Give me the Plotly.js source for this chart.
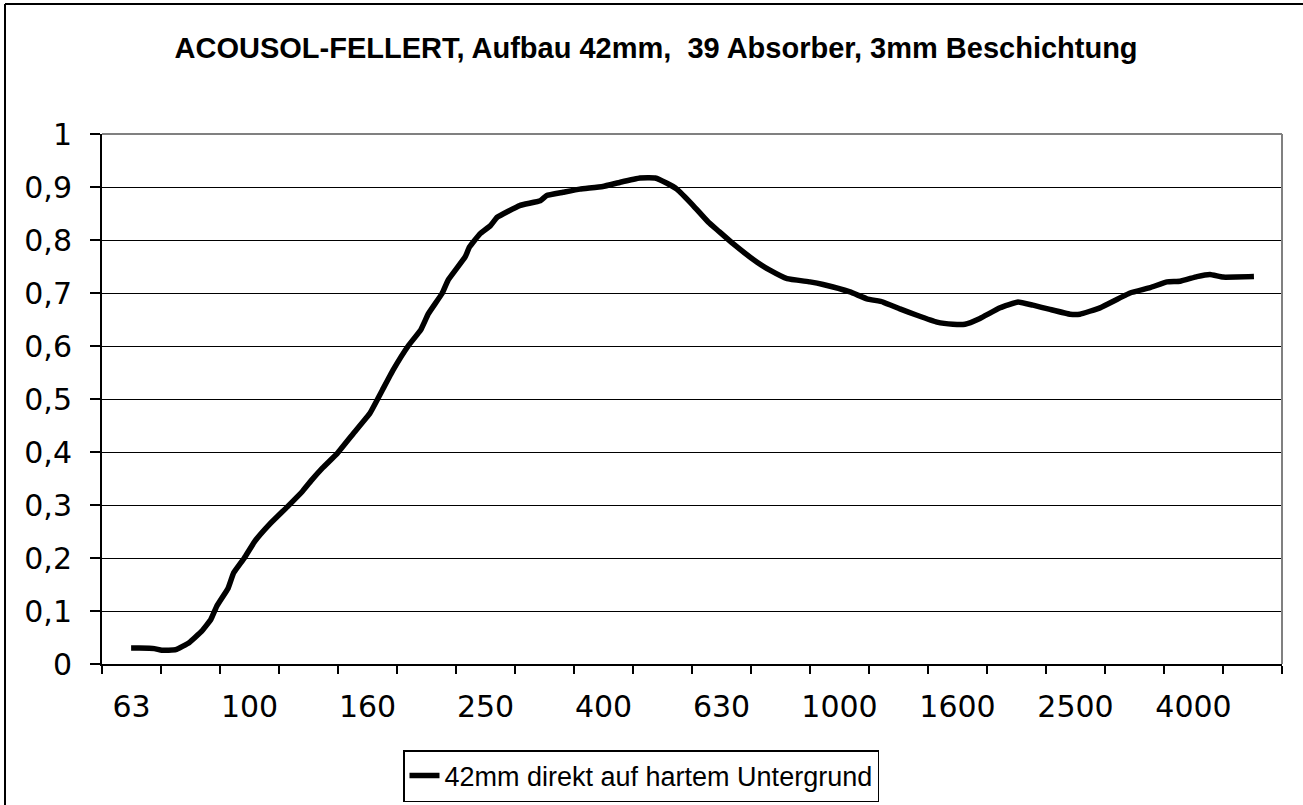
<!DOCTYPE html>
<html>
<head>
<meta charset="utf-8">
<script src="https://cdn.plot.ly/plotly-3.0.1.min.js"></script>
<style>html,body{margin:0;padding:0;background:#fff;}#chart{width:1303px;height:805px;}</style>
</head>
<body>
<div id="chart"></div>
<script>
// Frequency (Hz) and absorption coefficient
const freqHz = [63,65,69,71,75,79,83,86,88,92,94,98,102,108,116,123,127,133,141,150,160,168,175,186,195,201,212,217,232,236,246,256,263,287,311,319,340,363,397,425,459,487,510,530,565,599,622,660,725,762,815,891,938,1042,1113,1185,1266,1353,1463,1557,1632,1730,1871,2007,2128,2274,2459,2556,2764,3108,3360,3591,3777,4035,4246,4467,5040];
const alpha = [0.030,0.030,0.029,0.026,0.027,0.040,0.062,0.084,0.109,0.143,0.172,0.200,0.231,0.263,0.297,0.326,0.345,0.370,0.398,0.435,0.473,0.517,0.554,0.601,0.630,0.661,0.699,0.724,0.768,0.787,0.812,0.827,0.843,0.865,0.874,0.884,0.890,0.896,0.901,0.909,0.917,0.917,0.907,0.896,0.865,0.834,0.818,0.793,0.758,0.743,0.727,0.721,0.716,0.702,0.689,0.683,0.670,0.658,0.645,0.641,0.641,0.652,0.672,0.683,0.677,0.669,0.660,0.660,0.672,0.700,0.710,0.721,0.722,0.731,0.735,0.730,0.731];
const bands = ['63','80','100','125','160','200','250','315','400','500','630','800','1000','1250','1600','2000','2500','3150','4000','5000'];
const tickLabels = ['63','100','160','250','400','630','1000','1600','2500','4000'];
const seriesName = '42mm direkt auf hartem Untergrund';
const chartTitle = 'ACOUSOL-FELLERT, Aufbau 42mm,\u00a0 39 Absorber, 3mm Beschichtung';

// position on the third-octave band axis (63 Hz -> 0, 1000 Hz -> 12)
const bandPos = f => 12 + 10 * Math.log10(f / 1000);
const xPos = freqHz.map(bandPos);
const labelVals = tickLabels.map(t => bands.indexOf(t));
const boundaryVals = bands.map((b, i) => i - 0.5).concat([bands.length - 0.5]);

const tickFont = {family: 'DejaVu Sans, sans-serif', size: 30, color: '#000'};

const trace = {
  x: xPos, y: alpha, type: 'scatter', mode: 'lines', name: seriesName,
  line: {color: '#000', width: 5.5, shape: 'spline', smoothing: 0.3},
  hoverinfo: 'skip'
};

const layout = {
  width: 1303, height: 805,
  margin: {l: 102, r: 21, t: 134, b: 141, pad: 0, autoexpand: false},
  paper_bgcolor: '#fff', plot_bgcolor: '#fff',
  separators: ', ',
  showlegend: true,
  title: {
    text: '<b>' + chartTitle + '</b>',
    font: {family: 'Liberation Sans, Arial, sans-serif', size: 29, color: '#000'},
    x: 0.5035, xanchor: 'center', xref: 'container',
    y: 1 - 48 / 805, yanchor: 'middle', yref: 'container'
  },
  xaxis: {
    range: [-0.5, bands.length - 0.5],
    tickmode: 'array', tickvals: labelVals, ticktext: tickLabels,
    ticks: '', showgrid: false, zeroline: false,
    showline: true, linecolor: '#000', linewidth: 2,
    tickfont: tickFont, ticklabelstandoff: 15,
    minor: {tickmode: 'array', tickvals: boundaryVals, ticks: 'outside', ticklen: 8, tickwidth: 2, tickcolor: '#000', showgrid: false},
    fixedrange: true
  },
  yaxis: {
    range: [0, 1], tickmode: 'linear', tick0: 0, dtick: 0.1,
    ticks: 'outside', ticklen: 10, tickwidth: 2, tickcolor: '#000',
    showgrid: true, gridcolor: '#000', gridwidth: 1,
    zeroline: false, showline: true, linecolor: '#000', linewidth: 2,
    tickfont: tickFont, ticklabelstandoff: 12,
    fixedrange: true
  },
  legend: {
    x: (403 - 102) / 1180, xanchor: 'left', xref: 'paper',
    y: (664 - 750) / 530, yanchor: 'top', yref: 'paper',
    bgcolor: '#fff', bordercolor: '#000', borderwidth: 1.5,
    font: {family: 'Liberation Sans, Arial, sans-serif', size: 27, color: '#000'},
    itemwidth: 30
  },
  shapes: [
    {type: 'line', xref: 'paper', yref: 'paper', x0: 0, x1: 1, y0: 1, y1: 1, line: {color: '#808080', width: 2}},
    {type: 'line', xref: 'paper', yref: 'paper', x0: 1, x1: 1, y0: 0, y1: 1, line: {color: '#808080', width: 2}},
    {type: 'line', xref: 'paper', yref: 'paper', x0: (5 - 102) / 1180, x1: (5 - 102) / 1180, y0: (664 - 810) / 530, y1: (664 - 4) / 530, line: {color: '#000', width: 2}},
    {type: 'line', xref: 'paper', yref: 'paper', x0: (5 - 102) / 1180, x1: (1310 - 102) / 1180, y0: (664 - 4) / 530, y1: (664 - 4) / 530, line: {color: '#000', width: 2}}
  ]
};

Plotly.newPlot('chart', [trace], layout, {displayModeBar: false, staticPlot: true});
</script>
</body>
</html>
